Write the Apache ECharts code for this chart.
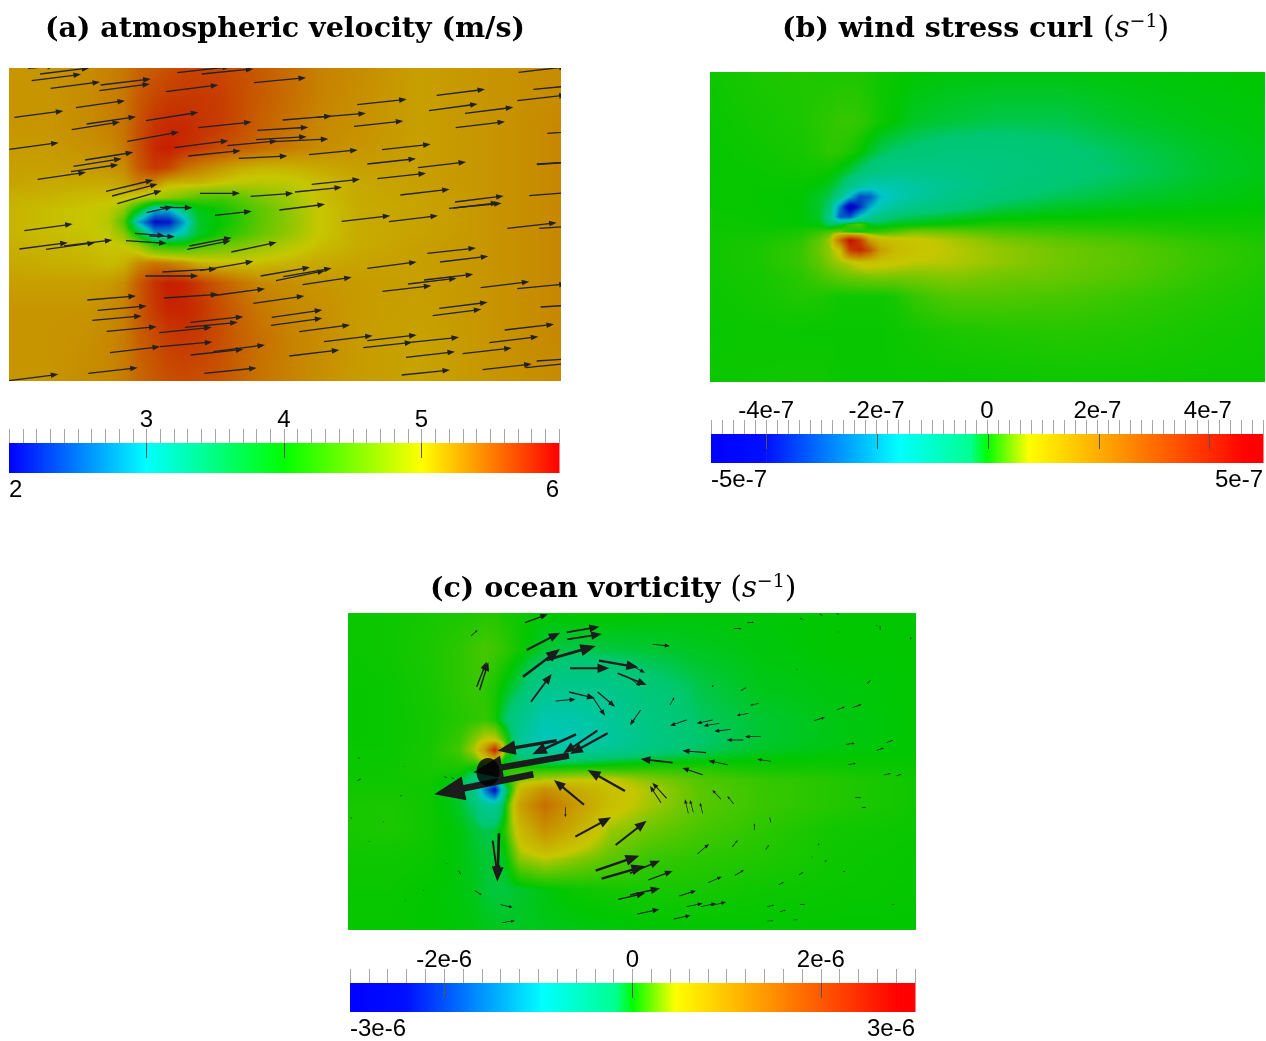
<!DOCTYPE html>
<html><head><meta charset="utf-8">
<style>html,body{margin:0;padding:0;background:#fff}#c{width:1266px;height:1041px}</style>
<script src="https://cdn.jsdelivr.net/npm/echarts@6/dist/echarts.min.js"></script>
</head><body><div id="c"></div>
<script>
// ---------- field (a): atmospheric velocity, m/s ----------
const aXs=[9,49,89,109,124,139,155,169,184,199,219,239,259,289,319,359,419,489,561];
const aYs=[68,98,128,148,168,183,198,210,222,234,246,263,283,308,338,381];
const aField=[
[5.25,5.25,5.3,5.35,5.4,5.5,5.55,5.6,5.65,5.65,5.65,5.6,5.55,5.45,5.35,5.3,5.2,5.25,5.3],
[5.25,5.25,5.3,5.35,5.4,5.55,5.65,5.7,5.72,5.72,5.7,5.62,5.55,5.45,5.35,5.28,5.2,5.25,5.3],
[5.25,5.25,5.3,5.35,5.42,5.6,5.75,5.8,5.8,5.75,5.7,5.62,5.52,5.42,5.32,5.27,5.2,5.25,5.32],
[5.22,5.22,5.27,5.3,5.4,5.6,5.8,5.85,5.78,5.72,5.62,5.55,5.47,5.38,5.3,5.25,5.2,5.25,5.32],
[5.2,5.2,5.22,5.25,5.3,5.55,5.72,5.65,5.45,5.35,5.25,5.15,5.1,5.1,5.15,5.2,5.2,5.25,5.32],
[5.18,5.15,5.15,5.15,5.2,5.35,5.3,5.12,5.1,5.1,5.02,4.95,4.92,4.95,5.05,5.15,5.2,5.25,5.32],
[5.12,5.1,5.05,5.05,5.02,4.95,4.8,4.7,4.55,4.4,4.35,4.45,4.62,4.78,5.04,5.15,5.18,5.25,5.32],
[5.1,5.05,5.0,4.95,4.7,3.9,2.9,2.9,3.4,3.9,4.05,4.25,4.45,4.72,5.0,5.14,5.18,5.25,5.32],
[5.1,5.05,5.0,4.9,4.4,2.8,2.05,2.1,2.8,3.8,4.0,4.2,4.45,4.7,5.0,5.14,5.18,5.25,5.32],
[5.1,5.05,5.02,4.95,4.7,3.9,2.8,2.85,3.2,3.8,4.1,4.3,4.5,4.74,5.0,5.14,5.18,5.25,5.32],
[5.12,5.1,5.05,5.02,5.0,4.8,4.3,4.2,4.2,4.4,4.5,4.62,4.75,4.9,5.05,5.14,5.2,5.25,5.32],
[5.15,5.12,5.1,5.05,5.1,5.3,5.4,5.35,5.25,5.1,5.05,5.05,5.05,5.1,5.15,5.18,5.2,5.25,5.32],
[5.2,5.2,5.2,5.22,5.3,5.55,5.75,5.85,5.82,5.7,5.55,5.42,5.32,5.28,5.25,5.22,5.2,5.25,5.32],
[5.25,5.25,5.25,5.3,5.35,5.55,5.72,5.82,5.82,5.75,5.62,5.5,5.4,5.32,5.28,5.22,5.2,5.25,5.32],
[5.25,5.25,5.28,5.32,5.38,5.52,5.62,5.7,5.72,5.7,5.62,5.52,5.45,5.35,5.3,5.22,5.18,5.25,5.32],
[5.25,5.25,5.3,5.32,5.38,5.48,5.55,5.6,5.62,5.6,5.58,5.5,5.42,5.35,5.28,5.22,5.18,5.25,5.3]];
// ---------- field (b): wind stress curl, 1e-7 /s ----------
const bXs=[710,760,800,820,830,840,850,860,870,880,895,915,950,1000,1060,1130,1200,1265];
const bYs=[72,122,152,172,187,197,207,217,224,232,240,250,262,277,297,332,382];
const bField=[
[.05,.1,.12,.1,.1,.1,.1,.1,.08,.05,.03,0,-.02,-.03,-.03,-.02,-.01,0],
[.03,.07,.1,.15,.17,.2,.2,.18,.12,.05,0,-.1,-.15,-.2,-.2,-.1,-.05,-.02],
[.02,.05,.08,.12,.17,.15,.1,.02,-.1,-.2,-.3,-.35,-.45,-.45,-.35,-.22,-.1,-.04],
[.02,.03,.05,.05,.03,-.05,-.15,-.3,-.45,-.55,-.65,-.65,-.6,-.5,-.38,-.25,-.12,-.05],
[.03,.02,.02,-.03,-.1,-.25,-.6,-1,-1.3,-1.3,-1.2,-1,-.75,-.45,-.3,-.18,-.08,-.03],
[.03,.02,0,-.1,-.2,-.5,-1.8,-3.2,-3,-1.8,-1.3,-1,-.6,-.35,-.22,-.12,-.06,-.02],
[.03,.02,0,-.12,-.35,-2.5,-4.8,-3.5,-2,-1.3,-.9,-.6,-.4,-.2,-.1,-.05,-.02,0],
[.04,.03,0,-.1,-.5,-3,-3,-1.5,-.8,-.5,-.3,-.2,-.12,-.03,0,.02,.03,.03],
[.04,.03,0,-.05,-.3,-.2,.2,.3,-.1,-.15,-.08,-.05,.02,.1,.1,.08,.06,.05],
[.05,.05,.08,.2,.3,.4,.1,.05,.15,.2,.3,.45,.4,.28,.22,.17,.1,.07],
[.05,.08,.15,.35,.6,2.5,4.4,3.5,1.5,1,.85,.8,.65,.45,.34,.26,.16,.1],
[.05,.1,.2,.4,.55,.9,3.5,4,3,1.6,1,.85,.7,.55,.42,.32,.2,.12],
[.05,.1,.2,.35,.5,.6,.7,.85,.9,.85,.8,.72,.68,.55,.42,.33,.21,.12],
[.05,.08,.15,.25,.3,.35,.4,.42,.45,.45,.45,.45,.5,.42,.38,.3,.18,.1],
[.04,.07,.12,.1,.08,.05,.05,.05,.05,.05,.08,.2,.3,.3,.27,.2,.13,.08],
[.03,.04,.03,.03,.03,.03,.03,.03,.03,.03,.04,.06,.1,.12,.14,.12,.08,.05],
[.04,.05,.06,.06,.05,.03,.03,.03,.03,.03,.03,.03,.03,.04,.05,.05,.04,.04]];
// ---------- field (c): ocean vorticity, 1e-6 /s ----------
const cXs=[348,390,430,460,475,485,495,505,520,545,575,610,650,700,760,830,916];
const cYs=[613,650,690,720,740,750,760,770,780,790,805,830,860,890,930];
const cField=[
[.02,.03,.05,.06,.06,.08,.08,.05,.03,0,.02,.02,0,-.01,-.01,0,0],
[.02,.03,.06,.1,.14,.16,.14,.1,.03,-.08,-.12,-.1,-.08,-.05,-.02,0,0],
[.01,.02,.05,.1,.12,.1,.05,-.03,-.15,-.45,-.45,-.42,-.25,-.12,-.04,-.02,0],
[.01,.02,.04,.08,.1,.12,.05,-.15,-.4,-.75,-.7,-.55,-.32,-.15,-.08,-.03,0],
[.01,.02,.04,.12,.3,.45,.45,.15,-.5,-.85,-.75,-.6,-.36,-.18,-.08,-.03,0],
[.02,.02,.05,.15,.4,1,2.4,.3,-.4,-.6,-.55,-.45,-.3,-.15,-.06,-.02,0],
[.02,.02,.05,.1,.2,.4,.5,-.05,-.15,-.25,-.2,-.12,-.06,-.03,0,.01,.01],
[.02,.03,.05,.05,-.05,-.1,.05,.1,.1,.1,.12,.12,.12,.1,.05,.04,.02],
[.03,.03,.04,-.05,-.3,-.8,-1,.05,.3,.4,.45,.45,.3,.18,.12,.08,.03],
[.04,.04,.03,-.08,-.4,-1.5,-2.5,-.3,.6,1.1,.8,.55,.38,.2,.13,.08,.03],
[.05,.06,.03,-.06,-.2,-.5,-.5,-.05,.9,1.5,1,.55,.36,.2,.13,.08,.03],
[.05,.06,.03,-.02,-.08,-.12,-.1,.08,.6,1.1,.75,.35,.24,.16,.1,.04,.02],
[.03,.03,.02,-.02,-.05,-.08,-.08,-.04,.3,.4,.3,.2,.12,.09,.07,.03,.01],
[.02,.02,0,-.02,-.04,-.08,-.1,-.1,-.07,-.02,.02,.04,.05,.05,.03,.02,.01],
[.01,.01,0,-.01,-.02,-.03,-.04,-.05,-.05,-.04,-.03,-.02,0,0,0,0,0]];
// ---------- vectors, read tail -> head from 3x crops ----------
const aCropL=[[85,25,165,18],[120,42,268,24],[95,62,243,43],[152,85,300,66],[302,75,452,57],[298,92,450,72],[532,38,690,20],[605,42,760,27],[498,95,655,75],[762,68,918,53],[228,143,375,122],[43,172,190,153],[438,182,595,157],[260,192,408,170],[215,209,360,186],[595,203,755,186],[382,244,537,216],[28,268,176,248],[523,263,685,242],[682,257,832,243],[848,180,995,168],[950,172,1098,160],[772,211,925,202],[768,239,920,230],[820,245,985,237],[565,288,722,272],[716,295,862,288],[255,300,400,277],[220,319,365,296],[213,335,355,314],[113,358,258,337],[318,394,460,360],[336,408,473,372],[352,431,485,392],[600,400,720,400],[752,409,880,400],[440,458,518,440],[480,442,577,443],[645,466,755,454],[838,450,975,433],[73,512,218,492],[58,567,203,548],[138,568,285,548],[192,558,337,540],[378,542,500,550],[405,520,495,527],[448,528,525,530],[568,558,695,533],[562,568,692,542],[694,576,830,547],[487,636,650,627],[600,632,760,604],[436,648,595,648],[782,648,930,622],[850,650,995,625],[828,662,975,632],[908,674,1055,652],[262,720,408,708],[293,751,440,738],[277,781,425,768],[320,814,470,800],[492,714,655,703],[632,708,795,686],[760,730,913,708],[571,787,730,770],[555,802,713,787],[478,818,635,802],[815,772,967,750],[813,796,967,775],[330,878,480,860],[480,860,637,846],[572,885,730,868],[640,875,795,855],[265,940,413,923],[613,940,770,924],[25,962,175,943],[898,815,1050,795],[868,888,1018,870]];
const aCropR=[[232,134,380,118],[470,106,615,88],[447,152,593,132],[555,160,700,142],[527,203,675,185],[222,199,370,183],[716,37,860,20],[760,88,900,75],[712,122,860,105],[306,269,452,253],[87,284,233,270],[262,312,408,296],[414,323,558,306],[802,220,950,210],[770,312,920,303],[772,314,920,302],[292,356,438,340],[95,373,240,358],[45,396,186,382],[361,405,509,388],[525,426,671,408],[507,445,665,430],[520,444,655,428],[748,407,895,395],[185,484,331,467],[327,485,474,467],[682,505,830,488],[778,505,925,495],[442,580,588,564],[480,606,625,589],[262,625,410,606],[384,672,530,655],[432,660,580,643],[307,694,454,677],[602,683,748,665],[712,686,860,672],[478,745,623,727],[458,767,604,748],[782,741,930,732],[674,810,822,793],[262,842,410,825],[250,863,397,847],[132,845,278,827],[390,847,537,832],[628,848,775,830],[378,892,525,875],[548,881,695,864],[608,929,755,912],[365,945,510,930],[770,903,920,893],[737,923,885,908]];
const cCropL=[[540,38,608,13],[378,78,398,60],[545,120,645,68],[665,67,763,50],[667,88,770,72],[534,200,645,117],[605,150,752,108],[395,230,425,155],[404,240,430,157],[558,275,620,192],[675,175,793,175],[762,152,880,172],[818,190,905,225],[632,273,692,268],[672,246,750,265],[758,246,810,290],[745,265,780,317],[870,325,857,345],[635,392,458,422],[693,373,562,433],[757,362,655,430],[788,370,675,432],[672,437,385,487],[565,493,268,553],[840,543,728,480],[717,584,627,510],[662,592,661,622],[691,680,798,622],[812,705,905,632],[462,670,457,815],[443,692,458,800],[752,782,883,737],[770,806,900,768],[820,868,900,850],[390,842,410,855],[467,884,503,892],[472,938,510,932],[40,445,45,443],[178,470,180,471],[298,500,307,504],[320,503,328,507],[38,512,48,506],[170,556,165,559],[18,625,20,622],[115,636,116,634],[72,693,73,696],[305,760,306,763],[340,782,348,793],[235,840,237,842],[182,872,183,874]];
const cCropR=[[68,103,120,108],[312,56,335,56],[352,37,372,37],[0,165,45,188],[0,205,30,228],[120,285,133,262],[32,300,0,345],[170,330,120,347],[248,330,200,340],[268,340,220,348],[302,358,253,364],[340,390,290,390],[392,380,345,380],[355,310,320,316],[386,280,360,286],[348,233,332,242],[250,225,246,232],[228,428,157,422],[128,458,32,447],[293,464,236,452],[218,494,157,474],[423,454,382,448],[93,578,60,528],[110,565,67,518],[175,610,165,568],[190,607,180,570],[218,610,210,578],[273,568,247,540],[311,582,292,558],[373,661,373,640],[423,638,419,622],[202,732,237,702],[307,711,323,690],[407,719,417,705],[235,818,275,800],[315,796,342,780],[55,810,128,783],[148,858,198,842],[0,790,90,752],[0,855,90,835],[22,912,88,898],[132,927,182,916],[170,890,218,880],[213,890,258,880],[243,887,288,876],[445,825,462,816],[507,795,520,786],[412,890,433,885],[450,905,468,900],[412,933,430,932],[490,930,503,929],[552,332,585,322],[620,300,645,290],[667,293,695,283],[712,221,722,210],[648,403,674,400],[740,421,762,414],[770,398,790,390],[655,464,678,460],[762,495,782,490],[798,498,815,492],[676,563,693,563],[696,592,708,592],[500,178,503,178],[510,25,518,28],[570,12,578,18],[620,10,626,14],[625,65,625,68],[740,45,741,48],[750,48,751,60],[842,88,843,80],[565,705,568,700],[545,742,547,740],[585,755,590,750],[640,785,646,785],[702,762,704,762],[510,883,525,883],[788,883,792,883]];
const cCylinder=[[488,772]];
// ---------- colour maps ----------
const rampA=[[0,[0,0,255]],[.25,[0,255,255]],[.5,[0,255,0]],[.75,[255,255,0]],[1,[255,0,0]]];
const rampB=[[0,[0,0,255]],[.1,[0,16,255]],[.34,[0,255,255]],[.47,[0,255,144]],[.5,[0,255,0]],[.575,[255,255,0]],[.97,[255,0,0]],[1,[255,0,0]]];
const lightDim=.78;
// ---------- colour bars ----------
const barA={min:2,max:6,step:.1,major:[3,4,5],ends:[2,6],ramp:rampA,rect:[9,443,550,30],text:v=>String(v)};
const expo=e=>v=>v===0?'0':v+'e-'+e;
const barB={min:-5,max:5,step:.2,major:[-4,-2,0,2,4],ends:[-5,5],ramp:rampB,rect:[711,434,554,29],text:expo(7)};
const barC={min:-3,max:3,step:.2,major:[-2,0,2],ends:[-3,3],ramp:rampB,rect:[350,983,565,30],text:expo(6)};

function colorAt(ramp,f){
  f=Math.max(0,Math.min(1,f));
  for(let i=1;i<ramp.length;i++){
    if(f<=ramp[i][0]){
      const a=ramp[i-1],b=ramp[i],t=(f-a[0])/(b[0]-a[0]||1);
      return a[1].map((c,k)=>c+(b[1][k]-c)*t);
    }
  }
  return ramp[ramp.length-1][1];
}
const css=(c,d)=>'rgb('+c.map(v=>Math.round(v*d)).join(',')+')';

// field series: each band between two rows of values is shaded line by line
function fieldSeries(idx,xs,ys,field,bar){
  const data=ys.slice(0,-1).map((y,j)=>[xs[0],y,j]);
  const col=v=>css(colorAt(bar.ramp,(v-bar.min)/(bar.max-bar.min)),lightDim);
  return {type:'custom',xAxisIndex:idx,yAxisIndex:idx,silent:true,animation:false,z:1,data,encode:{x:0,y:1},
    renderItem(params,api){
      const j=api.value(2),y0=api.coord([xs[0],ys[j]])[1],y1=api.coord([xs[0],ys[j+1]])[1],x0=api.coord([xs[0],ys[j]])[0],xe=api.coord([xs[xs.length-1],ys[j]])[0];
      const W=xe-x0,h=y1-y0,children=[];
      for(let py=Math.round(y0);py<Math.round(y1);py++){
        const t=(py+.5-y0)/h,stops=[];
        for(let i=0;i<xs.length;i++){
          const v=field[j][i]*(1-t)+field[j+1][i]*t,px=api.coord([xs[i],ys[j]])[0];
          stops.push({offset:(px-x0)/W,color:col(v)});
          if(i<xs.length-1){
            const v2=field[j][i+1]*(1-t)+field[j+1][i+1]*t,p2=api.coord([xs[i+1],ys[j]])[0];
            for(let k=1;k<5;k++){const q=k/5;stops.push({offset:(px+(p2-px)*q-x0)/W,color:col(v+(v2-v)*q)});}
          }
        }
        children.push({type:'rect',shape:{x:x0,y:py,width:W,height:1},
          style:{fill:new echarts.graphic.LinearGradient(0,0,1,0,stops),stroke:null}});
      }
      return {type:'group',children};
    }};
}
// vector series: glyph size is either fixed or proportional to vector length
function arrowSeries(idx,rows,g){
  return {type:'custom',xAxisIndex:idx,yAxisIndex:idx,silent:true,animation:false,clip:true,z:3,data:rows,encode:{x:[0,2],y:[1,3]},
    renderItem(params,api){
      const a=api.coord([api.value(0),api.value(1)]),b=api.coord([api.value(2),api.value(3)]);
      const dx=b[0]-a[0],dy=b[1]-a[1],L=Math.hypot(dx,dy)||1,ux=dx/L,uy=dy/L,nx=-uy,ny=ux;
      const hl=g.headLen(L),hw=g.headHalf(L),sw=g.shaft(L)/2;
      const bx=b[0]-ux*hl,by=b[1]-uy*hl;
      return {type:'polygon',shape:{points:[
        [a[0]+nx*sw,a[1]+ny*sw],[bx+nx*sw,by+ny*sw],[bx+nx*hw,by+ny*hw],[b[0],b[1]],
        [bx-nx*hw,by-ny*hw],[bx-nx*sw,by-ny*sw],[a[0]-nx*sw,a[1]-ny*sw]]},
        style:{fill:g.color,stroke:null}};
    }};
}
const fromCrop=(rows,ox,oy)=>rows.map(r=>[ox+r[0]/3,oy+r[1]/3,ox+r[2]/3,oy+r[3]/3]);
const aRows=fromCrop(aCropL,0,60).concat(fromCrop(aCropR,280,60));
const cRows=fromCrop(cCropL,345,610).concat(fromCrop(cCropR,630,610));
const thin={headLen:()=>7.5,headHalf:()=>2.8,shaft:()=>1.3,color:'#222'};
const fat={headLen:L=>Math.max(1.2,L*.3),headHalf:L=>Math.max(.6,L*.12),shaft:L=>Math.max(.7,L*.045+L*L*.0002),color:'#1c1c1c'};

// layout
const grids=[],xAxes=[],yAxes=[],series=[];
function panel(rect,xs,ys){
  const i=grids.length;
  grids.push({left:rect[0],top:rect[1],width:rect[2],height:rect[3]});
  xAxes.push({gridIndex:i,type:'value',show:false,min:xs[0],max:xs[xs.length-1]});
  yAxes.push({gridIndex:i,type:'value',show:false,inverse:true,min:ys[0],max:ys[ys.length-1]});
  return i;
}
const labelFont={fontFamily:'Liberation Sans',fontSize:24,color:'#000'};
function colourBar(bar){
  const [l,t,w,h]=bar.rect,i=grids.length;
  grids.push({left:l,top:t,width:w,height:h});
  xAxes.push({gridIndex:i,type:'value',position:'top',min:bar.min,max:bar.max,interval:bar.step,z:5,
    axisLine:{show:false,onZero:false},splitLine:{show:false},
    axisTick:{length:14,lineStyle:{color:'#a6a6a6',width:1}},
    axisLabel:Object.assign({margin:11,customValues:bar.major,formatter:bar.text},labelFont)});
  xAxes.push({gridIndex:i,type:'value',position:'bottom',min:bar.min,max:bar.max,interval:bar.max-bar.min,
    axisLine:{show:false,onZero:false},splitLine:{show:false},axisTick:{show:false},
    axisLabel:Object.assign({margin:5,alignMinLabel:'left',alignMaxLabel:'right',formatter:bar.text},labelFont)});
  yAxes.push({gridIndex:i,type:'value',show:false,min:0,max:1});
  const xi=xAxes.length-2;
  const segs=bar.ramp.slice(0,-1).map((s,k)=>[bar.min+s[0]*(bar.max-bar.min),0,bar.min+bar.ramp[k+1][0]*(bar.max-bar.min),1,k]);
  series.push({type:'custom',xAxisIndex:xi,yAxisIndex:yAxes.length-1,silent:true,animation:false,z:1,data:segs,encode:{x:[0,2],y:[1,3]},
    renderItem(params,api){
      const a=api.coord([api.value(0),api.value(3)]),b=api.coord([api.value(2),api.value(1)]),k=api.value(4);
      return {type:'rect',shape:{x:a[0],y:a[1],width:b[0]-a[0]+.5,height:b[1]-a[1]},
        style:{fill:new echarts.graphic.LinearGradient(0,0,1,0,[{offset:0,color:css(bar.ramp[k][1],1)},{offset:1,color:css(bar.ramp[k+1][1],1)}]),stroke:null}};
    }});
  // second axis on the same rectangle: major ticks running into the bar
  const g2=grids.length;
  grids.push({left:l,top:t,width:w,height:h});
  xAxes.push({gridIndex:g2,type:'value',position:'top',min:bar.min,max:bar.max,z:6,
    axisLine:{show:false,onZero:false},splitLine:{show:false},axisLabel:{show:false},
    axisTick:{inside:true,length:15,customValues:bar.major,lineStyle:{color:'#555',width:1}}});
  yAxes.push({gridIndex:g2,type:'value',show:false,min:0,max:1});
}
const pA=panel([9,68,552,313],aXs,aYs),pB=panel([710,72,555,310],bXs,bYs),pC=panel([348,613,568,317],cXs,cYs);
series.push(fieldSeries(pA,aXs,aYs,aField,barA),arrowSeries(pA,aRows,thin));
series.push(fieldSeries(pB,bXs,bYs,bField,barB));
series.push(fieldSeries(pC,cXs,cYs,cField,barC),arrowSeries(pC,cRows,fat));
series.push({type:'scatter',xAxisIndex:pC,yAxisIndex:pC,silent:true,animation:false,z:4,symbol:'circle',symbolSize:[23,28],itemStyle:{color:'#000'},data:cCylinder});
[barA,barB,barC].forEach(colourBar);

const tf={fontFamily:'DejaVu Serif',fontWeight:'bold',fontSize:28.5,color:'#000'};
const rich={i:{fontFamily:'DejaVu Serif',fontStyle:'italic',fontWeight:'normal',fontSize:29,color:'#000'},
  m:{fontFamily:'DejaVu Serif',fontWeight:'normal',fontSize:30,color:'#000'},
  s:{fontFamily:'DejaVu Serif',fontWeight:'normal',fontSize:19,color:'#000',padding:[0,0,14,0]},
  b:Object.assign({},tf)};
const title=[
 {text:'(a) atmospheric velocity (m/s)',left:40,top:10,textStyle:tf},
 {text:'{b|(b) wind stress curl }{m|(}{i|s}{s|−1}{m|)}',left:777,top:8,textStyle:Object.assign({rich},tf)},
 {text:'{b|(c) ocean vorticity }{m|(}{i|s}{s|−1}{m|)}',left:425,top:568,textStyle:Object.assign({rich},tf)}
];
const chart=echarts.init(document.getElementById('c'),null,{renderer:'canvas'});
chart.setOption({animation:false,backgroundColor:'#fff',title,grid:grids,xAxis:xAxes,yAxis:yAxes,series});
</script></body></html>
